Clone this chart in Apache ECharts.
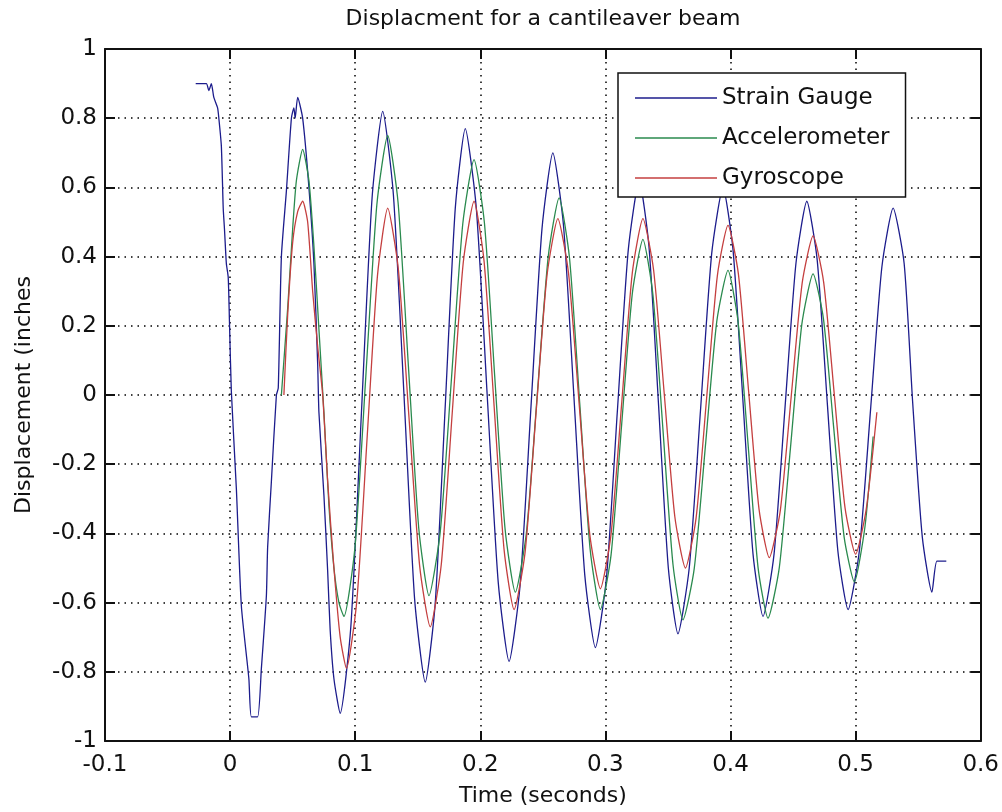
<!DOCTYPE html>
<html>
<head>
<meta charset="utf-8">
<script src="https://cdn.jsdelivr.net/npm/echarts@6/dist/echarts.min.js"></script>
<style>
html,body{margin:0;padding:0;background:#fff;}
#chart{width:1002px;height:812px;}
</style>
</head>
<body>
<div id="chart"></div>
<script>
// ---- Data (time in s, displacement in inches) ----
var strainGauge = [
  [-0.0275,0.90],[-0.019,0.90],[-0.017,0.88],[-0.015,0.90],[-0.013,0.86],[-0.010,0.83],[-0.009,0.80],
  [-0.007,0.72],[-0.0055,0.54],[-0.0045,0.48],[-0.003,0.38],[-0.0015,0.34],[-0.0005,0.21],[0.001,0.01],
  [0.005,-0.27],[0.009,-0.61],[0.015,-0.82],[0.017,-0.93],[0.022,-0.93],[0.025,-0.79],[0.029,-0.58],
  [0.030,-0.44],[0.033,-0.25],[0.037,0.0],[0.0385,0.02],[0.041,0.40],[0.045,0.59],[0.049,0.80],
  [0.051,0.83],[0.052,0.80],[0.054,0.86],[0.058,0.80],[0.063,0.60],[0.067,0.38],[0.070,0.09],
  [0.071,-0.05],[0.075,-0.29],[0.078,-0.51],[0.080,-0.68],[0.083,-0.82],[0.088,-0.92],
  [0.0965,-0.67],[0.105,-0.05],[0.1135,0.57],[0.122,0.82],
  [0.1305,0.58],[0.139,0.0],[0.1475,-0.59],[0.156,-0.83],
  [0.164,-0.60],[0.172,-0.03],[0.180,0.54],[0.188,0.77],
  [0.1968,0.54],[0.2055,0.0],[0.2143,-0.54],[0.223,-0.77],
  [0.2318,-0.55],[0.2405,-0.035],[0.2493,0.48],[0.258,0.70],
  [0.2665,0.49],[0.275,-0.015],[0.2835,-0.52],[0.292,-0.73],
  [0.3008,-0.53],[0.3095,-0.05],[0.3183,0.42],[0.327,0.62],
  [0.3348,0.43],[0.3425,-0.03],[0.3503,-0.50],[0.358,-0.69],
  [0.367,-0.50],[0.376,-0.045],[0.385,0.41],[0.394,0.60],
  [0.402,0.42],[0.410,-0.02],[0.418,-0.46],[0.426,-0.64],
  [0.4348,-0.46],[0.4435,-0.04],[0.4523,0.38],[0.461,0.56],
  [0.4693,0.39],[0.4775,-0.03],[0.4858,-0.45],[0.494,-0.62],
  [0.503,-0.45],[0.512,-0.04],[0.521,0.37],[0.530,0.54],
  [0.5388,0.38],[0.5455,-0.015],[0.5533,-0.41],[0.561,-0.57],
  [0.565,-0.48],[0.5725,-0.48]
];
var accelerometer = [
  [0.041,0.0],[0.046,0.25],[0.050,0.48],[0.053,0.62],[0.058,0.71],
  [0.063,0.62],[0.067,0.43],[0.071,0.19],[0.075,-0.05],[0.079,-0.32],[0.083,-0.50],[0.087,-0.60],[0.091,-0.64],
  [0.0998,-0.44],[0.1085,0.055],[0.1173,0.55],[0.126,0.75],
  [0.1343,0.555],[0.1425,0.085],[0.1508,-0.385],[0.159,-0.58],
  [0.168,-0.395],[0.177,0.05],[0.186,0.495],[0.195,0.68],
  [0.2033,0.497],[0.2115,0.055],[0.2198,-0.387],[0.228,-0.57],
  [0.2368,-0.40],[0.2455,0.0],[0.2543,0.40],[0.263,0.57],
  [0.2713,0.396],[0.2795,-0.025],[0.2878,-0.446],[0.296,-0.62],
  [0.3045,-0.463],[0.313,-0.085],[0.3215,0.293],[0.330,0.45],
  [0.338,0.289],[0.346,-0.10],[0.354,-0.489],[0.362,-0.65],
  [0.371,-0.502],[0.380,-0.145],[0.389,0.212],[0.398,0.36],
  [0.406,0.213],[0.414,-0.14],[0.422,-0.498],[0.430,-0.645],
  [0.439,-0.499],[0.448,-0.15],[0.457,0.204],[0.466,0.35],
  [0.4743,0.22],[0.4825,-0.095],[0.4908,-0.41],[0.499,-0.54],
  [0.5075,-0.38],[0.514,-0.12]
];
var gyroscope = [
  [0.043,0.0],[0.046,0.23],[0.050,0.44],[0.054,0.53],[0.058,0.56],
  [0.062,0.50],[0.066,0.30],[0.070,0.14],[0.074,0.0],[0.078,-0.25],[0.083,-0.50],[0.088,-0.70],[0.093,-0.79],
  [0.1013,-0.595],[0.1095,-0.125],[0.1178,0.345],[0.126,0.54],
  [0.1345,0.363],[0.143,-0.065],[0.1515,-0.493],[0.160,-0.67],
  [0.1688,-0.49],[0.1775,-0.055],[0.1863,0.38],[0.195,0.56],
  [0.203,0.387],[0.211,-0.03],[0.219,-0.447],[0.227,-0.62],
  [0.2358,-0.455],[0.2445,-0.055],[0.2533,0.345],[0.262,0.51],
  [0.2705,0.353],[0.279,-0.025],[0.2875,-0.403],[0.296,-0.56],
  [0.3045,-0.403],[0.313,-0.025],[0.3215,0.353],[0.330,0.51],
  [0.3385,0.362],[0.347,0.005],[0.3555,-0.352],[0.364,-0.50],
  [0.3725,-0.355],[0.381,-0.005],[0.3895,0.345],[0.398,0.49],
  [0.4063,0.35],[0.4145,0.01],[0.4228,-0.33],[0.431,-0.47],
  [0.4398,-0.334],[0.4485,-0.005],[0.4573,0.324],[0.466,0.46],
  [0.4745,0.325],[0.483,0.0],[0.4915,-0.325],[0.500,-0.46],
  [0.5085,-0.33],[0.517,-0.05]
];
var seriesNames = ['Strain Gauge','Accelerometer','Gyroscope'];
var xRange = [-0.1, 0.6], xStep = 0.1;
var yRange = [-1, 1], yStep = 0.2;

// ---- Styling ----
var FONT = 'DejaVu Sans';
var colors = ['#1c1c8c','#2a8a4e','#c43f3f'];
function fmt(v){ return String(+v.toFixed(1)); }
var gridLine = {show:true, lineStyle:{color:'#000', width:1.5, type:[1.5,5]}};
var axisLine = {show:true, onZero:false, lineStyle:{color:'#111', width:2}};
var tick = {show:true, inside:true, length:10, lineStyle:{color:'#111', width:2}};

var chart = echarts.init(document.getElementById('chart'), null, {renderer:'canvas'});
chart.setOption({
  animation:false,
  backgroundColor:'#fff',
  color: colors,
  title:{
    text:'Displacment for a cantileaver beam',
    left:543, top:6, padding:0, textAlign:'center',
    textStyle:{fontFamily:FONT, fontSize:22, fontWeight:'normal', color:'#111', lineHeight:26}
  },
  legend:{
    data: seriesNames,
    orient:'vertical',
    left:618, top:73,
    padding:[13,16,7,17],
    itemWidth:82, itemHeight:1.5, itemGap:16,
    icon:'rect',
    backgroundColor:'#fff',
    borderColor:'#111', borderWidth:1.5, borderRadius:0,
    textStyle:{fontFamily:FONT, fontSize:23, color:'#111', lineHeight:24}
  },
  grid:{left:105, right:20, top:49, bottom:71, containLabel:false},
  xAxis:[{
    type:'value', min:xRange[0], max:xRange[1], interval:xStep,
    name:'Time (seconds)', nameLocation:'middle', nameGap:44,
    nameTextStyle:{fontFamily:FONT, fontSize:22, color:'#111'},
    axisLine:axisLine, axisTick:tick, splitLine:gridLine,
    axisLabel:{fontFamily:FONT, fontSize:23, color:'#111', margin:13, formatter:fmt}
  },{
    type:'value', position:'top', min:xRange[0], max:xRange[1], interval:xStep,
    axisLine:axisLine, axisTick:tick, splitLine:{show:false}, axisLabel:{show:false}
  }],
  yAxis:[{
    type:'value', min:yRange[0], max:yRange[1], interval:yStep,
    name:'Displacement (inches', nameLocation:'middle', nameGap:70, nameRotate:90,
    nameTextStyle:{fontFamily:FONT, fontSize:22, color:'#111'},
    axisLine:axisLine, axisTick:tick, splitLine:gridLine,
    axisLabel:{fontFamily:FONT, fontSize:23, color:'#111', margin:8, formatter:fmt}
  },{
    type:'value', position:'right', min:yRange[0], max:yRange[1], interval:yStep,
    axisLine:axisLine, axisTick:tick, splitLine:{show:false}, axisLabel:{show:false}
  }],
  series:[
    {name:seriesNames[0], type:'line', data:strainGauge, showSymbol:false, symbol:'none',
     smooth:0.2,
     lineStyle:{width:1.3, color:colors[0]}, itemStyle:{color:colors[0]}},
    {name:seriesNames[1], type:'line', data:accelerometer, showSymbol:false, symbol:'none',
     smooth:0.2,
     lineStyle:{width:1.3, color:colors[1]}, itemStyle:{color:colors[1]}},
    {name:seriesNames[2], type:'line', data:gyroscope, showSymbol:false, symbol:'none',
     smooth:0.2,
     lineStyle:{width:1.3, color:colors[2]}, itemStyle:{color:colors[2]}}
  ]
});
</script>
</body>
</html>
